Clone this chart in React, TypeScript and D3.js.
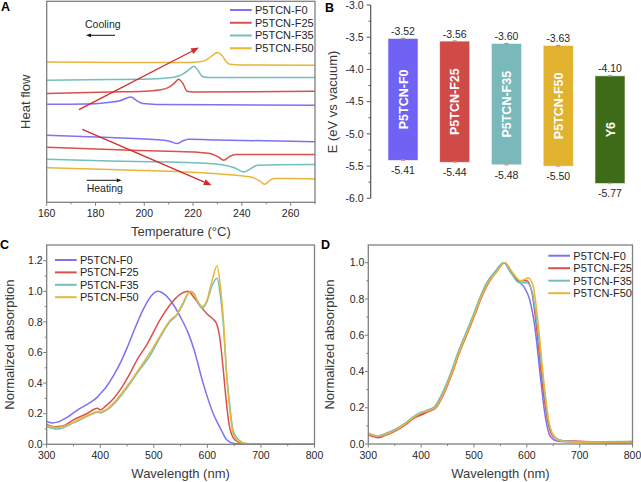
import React from "react";
import * as d3 from "d3";

// ---------- shared ----------
const seriesNames = ["P5TCN-F0", "P5TCN-F25", "P5TCN-F35", "P5TCN-F50"];
const lineColors = ["#7b72f4", "#d9514c", "#72bfbd", "#e7b63a"];

// ---------- Panel A: DSC (temperature °C, heat flow a.u.) ----------
const coolF0: [number, number][] = [[160, 98], [180, 98.6], [186, 100], [190, 101.5], [194.5, 105.3], [197, 101.5], [199.5, 98.7], [205, 97.9], [230, 97.5], [270, 97]];
const coolF25: [number, number][] = [[160, 108.7], [186, 110.3], [200, 111], [206, 112.2], [210, 115], [212.5, 119.5], [214.1, 123], [215.8, 119], [217.6, 111], [220, 110.4], [245, 110.6], [270, 111]];
const coolF35: [number, number][] = [[160, 122], [186, 122.7], [205, 123.6], [212, 125], [216, 128.5], [218.5, 133], [220.3, 136], [222, 132], [223.7, 126], [226, 124.8], [270, 124.7]];
const coolF50: [number, number][] = [[160, 140.3], [190, 139.9], [215, 139.8], [222, 140.3], [225.5, 142.5], [228, 147], [229.9, 149.7], [231.8, 147], [233.5, 141], [235, 138], [240, 137.4], [270, 137]];
const heatF0: [number, number][] = [[160, 67], [186, 64.7], [200, 63.4], [208, 62], [211, 60.5], [213.5, 58.7], [215.5, 61], [218.2, 63], [230, 62.4], [270, 60.5]];
const heatF25: [number, number][] = [[160, 55], [186, 52.7], [210, 51], [222, 50], [227, 48.7], [230.3, 45.5], [232.6, 42], [234.8, 45.5], [237.4, 47.7], [250, 47.8], [270, 47.7]];
const heatF35: [number, number][] = [[160, 43], [186, 41.3], [210, 40.2], [225, 39], [232, 37.5], [237, 34.5], [240.8, 30.3], [243.5, 33.5], [246.4, 37], [255, 37.5], [270, 37.7]];
const heatF50: [number, number][] = [[160, 34.7], [186, 32.7], [210, 31], [230, 28.5], [240, 26.5], [244.5, 24.8], [247.5, 21], [249.4, 18], [251.3, 21.5], [253.2, 23.7], [260, 23.7], [270, 23.3]];
const tempTicks = [160, 180, 200, 220, 240, 260];

// ---------- Panel B: energy levels ----------
const bandCats = ["P5TCN-F0", "P5TCN-F25", "P5TCN-F35", "P5TCN-F50", "Y6"];
const lumoValues = [-3.52, -3.56, -3.6, -3.63, -4.1];
const homoValues = [-5.41, -5.44, -5.48, -5.5, -5.77];
const barColors = ["#6f62f5", "#d04a47", "#7ab9bb", "#e0b22e", "#3e6b18"];
const energyTicks = [-3.0, -3.5, -4.0, -4.5, -5.0, -5.5, -6.0];

// ---------- Panel C: solution absorption ----------
const wlC0 = [300, 310, 320, 340, 360, 380, 395, 400, 410, 425, 440, 450, 465, 480, 495, 508, 520, 535, 550, 565, 575, 592, 611, 625, 636, 650, 670, 800];
const absC0 = [0.15, 0.14, 0.145, 0.18, 0.23, 0.27, 0.31, 0.33, 0.37, 0.45, 0.55, 0.63, 0.76, 0.88, 0.97, 1.0, 0.98, 0.92, 0.83, 0.72, 0.62, 0.4, 0.2, 0.1, 0.03, 0.005, 0, 0];
const wlC25 = [300, 315, 330, 350, 375, 395, 400, 410, 425, 440, 455, 470, 485, 493, 511, 530, 549, 564, 575, 590, 600, 610, 617, 623, 629, 635, 641, 651, 666, 700, 800];
const absC25 = [0.13, 0.115, 0.12, 0.16, 0.2, 0.235, 0.225, 0.25, 0.3, 0.37, 0.46, 0.56, 0.64, 0.69, 0.81, 0.91, 0.98, 1.0, 0.96, 0.89, 0.85, 0.82, 0.79, 0.7, 0.51, 0.29, 0.12, 0.03, 0.005, 0, 0];
const wlC35 = [300, 320, 350, 380, 395, 400, 410, 430, 450, 470, 493, 512, 530, 543, 555, 568, 575, 583, 590, 599, 608, 618, 624, 630, 636, 642, 648, 658, 673, 700, 800];
const absC35 = [0.115, 0.1, 0.14, 0.19, 0.21, 0.205, 0.22, 0.28, 0.37, 0.47, 0.58, 0.7, 0.8, 0.845, 0.92, 1.0, 0.985, 0.92, 0.89, 0.93, 1.03, 1.085, 0.98, 0.77, 0.46, 0.25, 0.09, 0.03, 0.005, 0.002, 0.002];
const wlC50 = [300, 320, 350, 380, 395, 400, 410, 430, 450, 470, 493, 512, 530, 543, 555, 568, 575, 583, 590, 599, 608, 618, 624, 630, 636, 642, 648, 658, 673, 700, 800];
const absC50 = [0.125, 0.11, 0.145, 0.195, 0.215, 0.21, 0.225, 0.29, 0.38, 0.48, 0.6, 0.71, 0.81, 0.85, 0.93, 1.0, 0.98, 0.93, 0.9, 0.94, 1.06, 1.165, 1.04, 0.81, 0.45, 0.22, 0.07, 0.02, 0.004, 0.001, 0.001];

// ---------- Panel D: film absorption ----------
const wlD0 = [300, 315, 330, 350, 370, 385, 400, 415, 426, 440, 458, 470, 484, 498, 511, 527, 540, 557, 570, 585, 595, 605, 615, 625, 635, 645, 660, 700, 800];
const absD0 = [0.06, 0.045, 0.05, 0.075, 0.11, 0.145, 0.165, 0.185, 0.2, 0.27, 0.4, 0.5, 0.6, 0.7, 0.8, 0.9, 0.95, 1.0, 0.945, 0.895, 0.865, 0.8, 0.65, 0.39, 0.15, 0.04, 0.015, 0.01, 0.005];
const wlD25 = [300, 318, 330, 350, 370, 385, 400, 415, 428, 442, 460, 472, 486, 500, 513, 530, 543, 557, 570, 585, 600, 610, 620, 630, 640, 650, 665, 700, 800];
const absD25 = [0.05, 0.035, 0.045, 0.07, 0.105, 0.14, 0.16, 0.18, 0.2, 0.27, 0.4, 0.5, 0.6, 0.7, 0.8, 0.9, 0.95, 1.0, 0.95, 0.9, 0.9, 0.83, 0.6, 0.32, 0.12, 0.04, 0.02, 0.015, 0.005];
const wlD35 = [300, 318, 330, 350, 370, 385, 400, 415, 425, 439, 457, 469, 483, 497, 510, 526, 540, 556, 570, 585, 600, 610, 620, 630, 640, 650, 665, 700, 800];
const absD35 = [0.06, 0.045, 0.055, 0.08, 0.115, 0.15, 0.175, 0.19, 0.205, 0.275, 0.4, 0.5, 0.6, 0.7, 0.8, 0.9, 0.95, 1.0, 0.945, 0.89, 0.89, 0.84, 0.65, 0.37, 0.14, 0.05, 0.02, 0.012, 0.015];
const wlD50 = [300, 318, 330, 350, 370, 385, 400, 415, 427, 441, 459, 471, 485, 499, 512, 529, 543, 559, 572, 588, 603, 612, 622, 632, 642, 652, 667, 700, 800];
const absD50 = [0.055, 0.045, 0.05, 0.075, 0.11, 0.145, 0.17, 0.185, 0.2, 0.27, 0.4, 0.5, 0.6, 0.7, 0.8, 0.9, 0.95, 1.0, 0.95, 0.9, 0.915, 0.87, 0.65, 0.35, 0.12, 0.04, 0.015, 0.01, 0.005];
const wlTicks = [300, 400, 500, 600, 700, 800];

const FONT = "'Liberation Sans', Arial, Helvetica, sans-serif";
const FRAME = "#808080";
const TXT = "#262626";
const TITLE = "#3a3a3a";

function zip(xs: number[], ys: number[]): [number, number][] {
  return xs.map((x, i) => [x, ys[i]]);
}

type Lin = d3.ScaleLinear<number, number>;

function BoxAxes(props: {
  x: Lin; y: Lin; xMajor: number[]; xMinor: number[]; yMajor?: number[]; yMinor?: number[];
  yFmt?: (v: number) => string; xTitle: string; yTitle: string; xTitleY: number; yTitleX: number;
}) {
  const { x, y, xMajor, xMinor, yMajor = [], yMinor = [], yFmt, xTitle, yTitle, xTitleY, yTitleX } = props;
  const [x0, x1] = x.range();
  const [y0, y1] = y.range();
  const cx = (x0 + x1) / 2;
  const cy = (y0 + y1) / 2;
  return (
    <g fontFamily={FONT} fontWeight="normal">
      <rect x={x0} y={y1} width={x1 - x0} height={y0 - y1} fill="none" stroke={FRAME} strokeWidth={1.3} />
      {xMajor.map((v) => (
        <g key={"xM" + v}>
          <line x1={x(v)} x2={x(v)} y1={y0} y2={y0 + 3.5} stroke={FRAME} strokeWidth={1} />
          <text x={x(v)} y={y0 + 14.5} textAnchor="middle" fontSize={10.5} fill={TXT}>{v}</text>
        </g>
      ))}
      {xMinor.map((v) => (
        <line key={"xm" + v} x1={x(v)} x2={x(v)} y1={y0} y2={y0 + 2} stroke={FRAME} strokeWidth={1} />
      ))}
      {yMajor.map((v) => (
        <g key={"yM" + v}>
          <line x1={x0} x2={x0 - 3.5} y1={y(v)} y2={y(v)} stroke={FRAME} strokeWidth={1} />
          <text x={x0 - 4} y={y(v) + 3.7} textAnchor="end" fontSize={10.5} fill={TXT}>{yFmt ? yFmt(v) : v}</text>
        </g>
      ))}
      {yMinor.map((v) => (
        <line key={"ym" + v} x1={x0} x2={x0 - 2} y1={y(v)} y2={y(v)} stroke={FRAME} strokeWidth={1} />
      ))}
      <text x={cx} y={xTitleY} textAnchor="middle" fontSize={13} fill={TITLE}>{xTitle}</text>
      <text transform={`translate(${yTitleX},${cy}) rotate(-90)`} textAnchor="middle" fontSize={13} fill={TITLE} dy="0.35em">{yTitle}</text>
    </g>
  );
}

function Legend(props: { x: number; y: number; step: number }) {
  const { x, y, step } = props;
  return (
    <g fontFamily={FONT}>
      {seriesNames.map((n, i) => (
        <g key={n}>
          <line x1={x} x2={x + 21.7} y1={y + i * step} y2={y + i * step} stroke={lineColors[i]} strokeWidth={2} />
          <text x={x + 25} y={y + i * step + 3.8} fontSize={11} fill={TXT}>{n}</text>
        </g>
      ))}
    </g>
  );
}

function Arrow(props: { x1: number; y1: number; x2: number; y2: number; color: string; head: number; w: number }) {
  const { x1, y1, x2, y2, color, head, w } = props;
  const ang = Math.atan2(y2 - y1, x2 - x1);
  const bx = x2 - head * Math.cos(ang);
  const by = y2 - head * Math.sin(ang);
  const px = -Math.sin(ang) * head * 0.38;
  const py = Math.cos(ang) * head * 0.38;
  return (
    <g>
      <line x1={x1} y1={y1} x2={bx} y2={by} stroke={color} strokeWidth={w} />
      <path d={`M${x2},${y2}L${bx + px},${by + py}L${bx - px},${by - py}Z`} fill={color} />
    </g>
  );
}

function PanelA() {
  const x = d3.scaleLinear().domain([160, 270]).range([46.7, 315]);
  const y = d3.scaleLinear().domain([0, 201]).range([202.3, 1.3]);
  const line = d3.line<[number, number]>().x((d) => x(d[0])).y((d) => y(d[1])).curve(d3.curveMonotoneX);
  const cool = [coolF0, coolF25, coolF35, coolF50];
  const heat = [heatF0, heatF25, heatF35, heatF50];
  const minor = d3.range(170, 271, 20);
  return (
    <g>
      {cool.map((c, i) => (
        <path key={"c" + i} d={line(c) || ""} fill="none" stroke={lineColors[i]} strokeWidth={1.5} />
      ))}
      {heat.map((c, i) => (
        <path key={"h" + i} d={line(c) || ""} fill="none" stroke={lineColors[i]} strokeWidth={1.5} />
      ))}
      <BoxAxes x={x} y={y} xMajor={tempTicks} xMinor={minor} xTitle="Temperature (°C)" yTitle="Heat flow" xTitleY={236} yTitleX={25} />
      <Arrow x1={x(173.24)} y1={y(92.7)} x2={x(222.44)} y2={y(154.7)} color="#d42a2a" head={8} w={1.3} />
      <Arrow x1={x(174.6)} y1={y(73)} x2={x(227.65)} y2={y(17)} color="#d42a2a" head={8} w={1.3} />
      <Arrow x1={x(188.0)} y1={y(167)} x2={x(176.1)} y2={y(167)} color="#111" head={5} w={1} />
      <Arrow x1={x(176.4)} y1={y(22)} x2={x(190.75)} y2={y(22)} color="#111" head={5} w={1} />
      <text x={x(175.7)} y={y(174)} fontFamily={FONT} fontSize={10.5} fill={TXT}>Cooling</text>
      <text x={x(176.4)} y={y(10)} fontFamily={FONT} fontSize={10.5} fill={TXT}>Heating</text>
      <Legend x={230} y={10} step={12.75} />
    </g>
  );
}

function PanelB() {
  const y = d3.scaleLinear().domain([-6.0, -3.0]).range([198.3, 5]);
  const x = d3.scalePoint<string>().domain(bandCats).range([403, 610]);
  const bw = 30;
  const ax = 370.7;
  const minor = d3.range(-5.75, -3.0, 0.5);
  return (
    <g fontFamily={FONT}>
      <line x1={ax} x2={ax} y1={y(-3.0)} y2={y(-6.0)} stroke="#555" strokeWidth={1.2} />
      {energyTicks.map((v) => (
        <g key={v}>
          <line x1={ax} x2={ax - 4} y1={y(v)} y2={y(v)} stroke="#555" strokeWidth={1} />
          <text x={ax - 7} y={y(v) + 3.7} textAnchor="end" fontSize={10.5} fill={TXT}>{v.toFixed(1)}</text>
        </g>
      ))}
      {minor.map((v) => (
        <line key={"m" + v} x1={ax} x2={ax - 2.2} y1={y(v)} y2={y(v)} stroke="#555" strokeWidth={1} />
      ))}
      <text transform={`translate(332.5,102) rotate(-90)`} textAnchor="middle" dy="0.35em" fontSize={13} fill={TITLE}>E (eV vs vacuum)</text>
      {bandCats.map((c, i) => {
        const cx = x(c) as number;
        const yt = y(lumoValues[i]);
        const yb = y(homoValues[i]);
        return (
          <g key={c}>
            <rect x={cx - bw / 2} y={yt} width={bw} height={yb - yt} fill={barColors[i]} stroke="#f0f0f0" strokeWidth={0.6} />
            <line x1={cx - 2} x2={cx + 2} y1={yt} y2={yt} stroke="#999" strokeWidth={1.5} />
            <line x1={cx - 2} x2={cx + 2} y1={yb} y2={yb} stroke="#e39a9a" strokeWidth={1.5} />
            <text x={cx} y={yt - 3.5} textAnchor="middle" fontSize={10.5} fill={TXT}>{lumoValues[i].toFixed(2)}</text>
            <text x={cx} y={yb + 14} textAnchor="middle" fontSize={10.5} fill={TXT}>{homoValues[i].toFixed(2)}</text>
            <text transform={`translate(${cx},${(yt + yb) / 2}) rotate(-90)`} textAnchor="middle" dy="0.36em" fontSize={12.5} fontWeight="bold" fill="#fff">{c}</text>
          </g>
        );
      })}
    </g>
  );
}

function SpectrumPanel(props: {
  x0: number; x1: number; yBottom: number; yTop: number; yMaxVal: number;
  series: [number, number][][]; yMajor: number[]; yMinor: number[]; yTitleX: number; legend: { x: number; y: number; step: number };
}) {
  const { x0, x1, yBottom, yTop, yMaxVal, series, yMajor, yMinor, yTitleX, legend } = props;
  const x = d3.scaleLinear().domain([300, 800]).range([x0, x1]);
  const y = d3.scaleLinear().domain([0, yMaxVal]).range([yBottom, yTop]);
  const line = d3.line<[number, number]>().x((d) => x(d[0])).y((d) => y(d[1])).curve(d3.curveMonotoneX);
  const xMinor = d3.range(350, 800, 100);
  return (
    <g>
      {series.map((s, i) => (
        <path key={i} d={line(s) || ""} fill="none" stroke={lineColors[i]} strokeWidth={1.5} />
      ))}
      <BoxAxes x={x} y={y} xMajor={wlTicks} xMinor={xMinor} yMajor={yMajor} yMinor={yMinor}
        yFmt={(v) => v.toFixed(1)} xTitle="Wavelength (nm)" yTitle="Normalized absorption" xTitleY={478} yTitleX={yTitleX} />
      <Legend x={legend.x} y={legend.y} step={legend.step} />
    </g>
  );
}

export default function App() {
  const cSeries = [zip(wlC0, absC0), zip(wlC25, absC25), zip(wlC35, absC35), zip(wlC50, absC50)];
  const dSeries = [zip(wlD0, absD0), zip(wlD25, absD25), zip(wlD35, absD35), zip(wlD50, absD50)];
  const yMaxC = 1.2 + (260.7 - 245) / ((444.3 - 260.7) / 1.2);
  const yMaxD = 1.0 + (262.7 - 245) / (444 - 262.7);
  return (
    <svg width={641} height={482} style={{ position: "absolute", left: 0, top: 0, background: "#fff" }}>
      <rect width={641} height={482} fill="#fff" />
      <PanelA />
      <PanelB />
      <SpectrumPanel x0={46.7} x1={314.5} yBottom={444.3} yTop={245} yMaxVal={yMaxC}
        series={cSeries} yMajor={[0, 0.2, 0.4, 0.6, 0.8, 1.0, 1.2]} yMinor={[0.1, 0.3, 0.5, 0.7, 0.9, 1.1]} yTitleX={9}
        legend={{ x: 55, y: 260, step: 12.4 }} />
      <SpectrumPanel x0={368.3} x1={632.5} yBottom={444} yTop={245} yMaxVal={yMaxD}
        series={dSeries} yMajor={[0, 0.2, 0.4, 0.6, 0.8, 1.0]} yMinor={[0.1, 0.3, 0.5, 0.7, 0.9]} yTitleX={329}
        legend={{ x: 548.3, y: 255.7, step: 12.5 }} />
      <g fontFamily={FONT} fontWeight="bold" fontSize={12.5} fill="#000">
        <text x={1} y={11}>A</text>
        <text x={325} y={12}>B</text>
        <text x={0} y={249}>C</text>
        <text x={321} y={249}>D</text>
      </g>
    </svg>
  );
}
